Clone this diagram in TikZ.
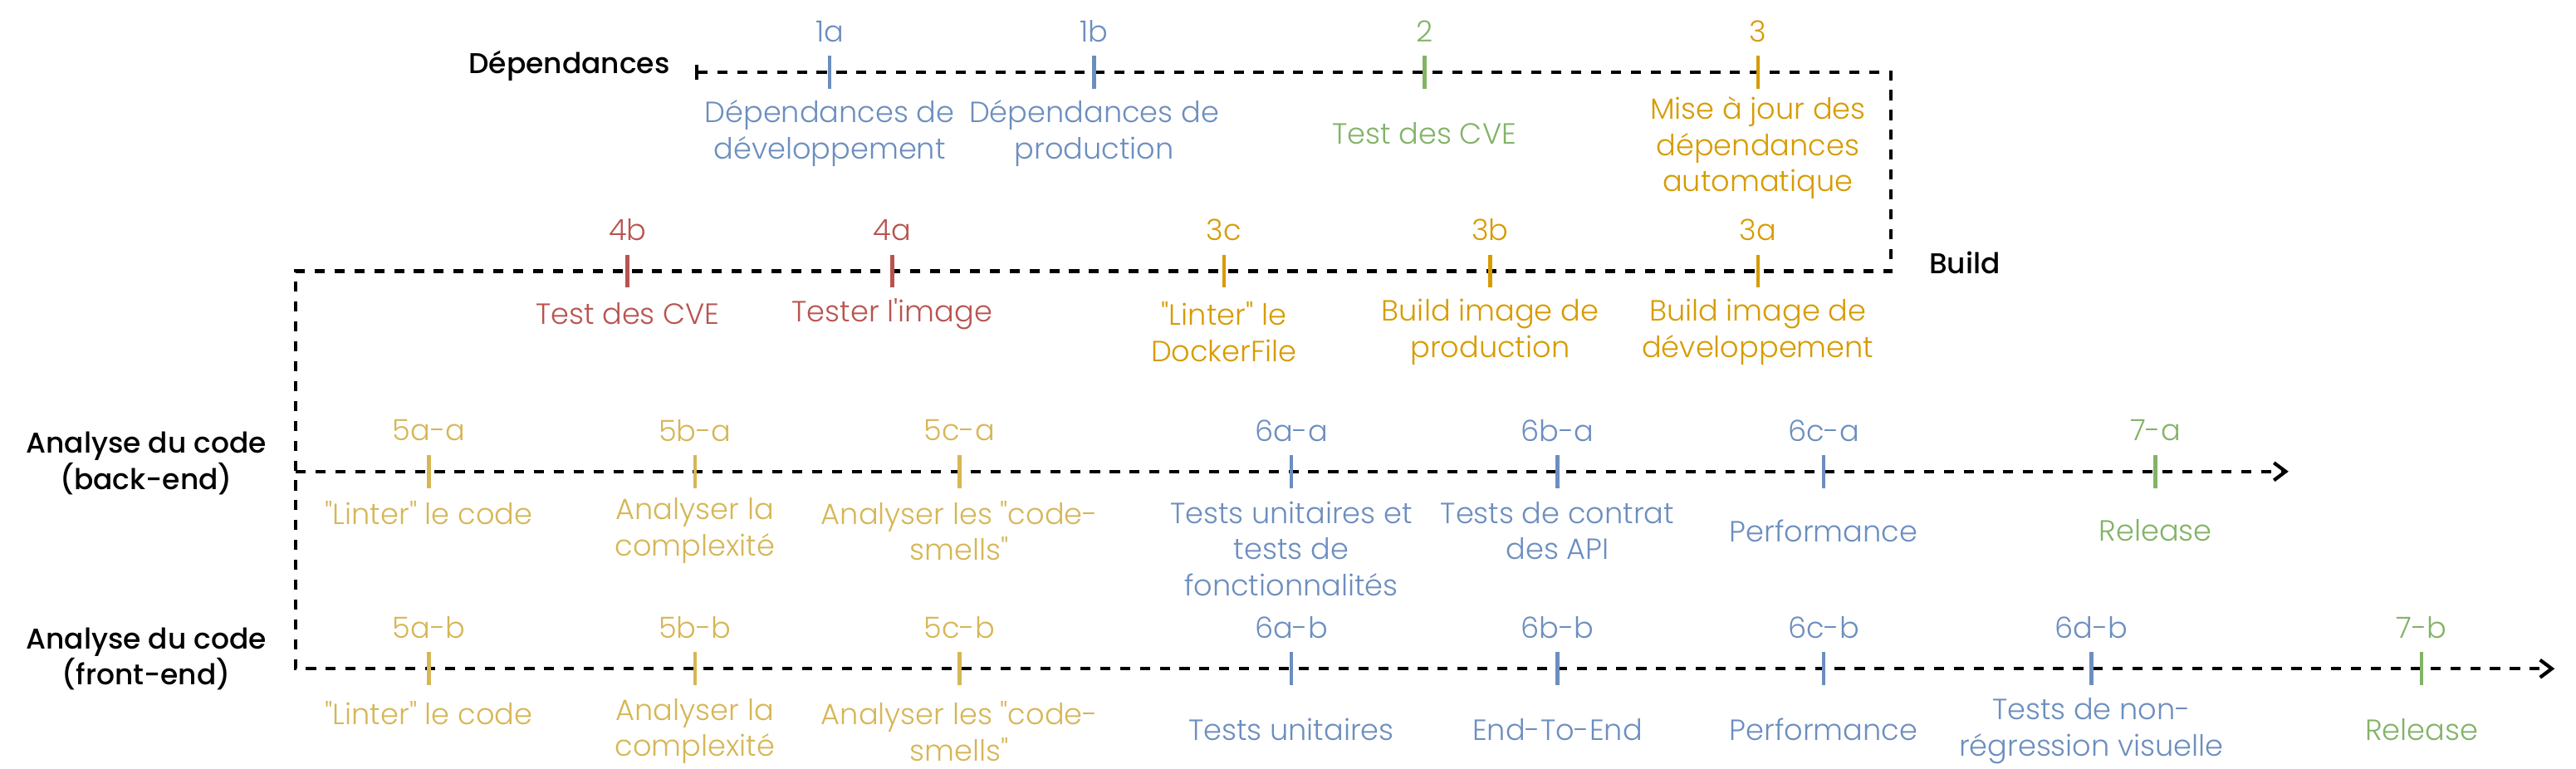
\documentclass[tikz,border=0pt]{standalone}
\usepackage{fontspec}
\setmainfont{Poppins}
\newfontfamily\lightfont{Poppins Light}
\newfontfamily\medfont{Poppins Medium}
\usetikzlibrary{arrows.meta}
\definecolor{cblue}{HTML}{6C8EBF}
\definecolor{cgreen}{HTML}{82B366}
\definecolor{corange}{HTML}{D79B00}
\definecolor{cred}{HTML}{B85450}
\definecolor{cyellow}{HTML}{D6B656}
\tikzset{
  flow/.style={line width=1.25pt, dash pattern=on 3.45pt off 3.35pt},
  tickmark/.style={line width=1.3pt},
  numlbl/.style={font=\lightfont\fontsize{10}{12.4}\selectfont, inner sep=0pt},
  desc/.style={font=\lightfont\fontsize{10}{12.4}\selectfont, align=center, inner sep=0pt},
  lanetitle/.style={font=\medfont\fontsize{9.8}{12.4}\selectfont, align=center, inner sep=0pt},
  endtip/.style={-{Straight Barb[length=4pt,width=6pt,line width=1.2pt]}},
}
% name, x, line y, colour, number, text y, text
\newcommand\milestone[7]{%
  \coordinate (#1-t) at (#2,#3-10);
  \coordinate (#1-b) at (#2,#3+10);
  \draw[tickmark,#4] (#1-t) -- (#1-b);
  \node[numlbl,text=#4] (#1-n) at (#2,#3-25) {#5};
  \node[desc,text=#4] (#1-d) at (#2,#6) {#7};
}
\begin{document}
\begin{tikzpicture}[x=0.01978cm,y=-0.01978cm]
\useasboundingbox (0,0) rectangle (1568,468);
% lane titles
\node[lanetitle,anchor=east] (tdep) at (408,40) {Dépendances};
\node[lanetitle,anchor=west] (tbuild) at (1174,160) {Build};
\node[lanetitle] (tback) at (89,282) {Analyse du code\\(back-end)};
\node[lanetitle] (tfront) at (89,401) {Analyse du code\\(front-end)};
% path coordinates
\coordinate (dstart) at (423,44);
\coordinate (dcorner) at (1151,44);
\coordinate (bcorner) at (1151,165);
\coordinate (bleft) at (180,165);
\coordinate (bestart) at (180,287);
\coordinate (beend) at (1393,287);
\coordinate (festart) at (180,407);
\coordinate (feend) at (1555,407);
\draw[flow,{Bar[width=5pt,line width=1.2pt]}-{Straight Barb[length=4pt,width=6pt,line width=1.2pt]}]
  (dstart) -- (dcorner) -- (bcorner) -- (bleft) -- (festart) -- (feend);
\draw[flow,endtip] (bestart) -- (beend);
% Dépendances
\milestone{m1a}{505}{44}{cblue}{1a}{81}{Dépendances de\\développement}
\milestone{m1b}{666}{44}{cblue}{1b}{81}{Dépendances de\\production}
\milestone{m2}{867}{44}{cgreen}{2}{81}{Test des CVE}
\milestone{m3}{1070}{44}{corange}{3}{90}{Mise à jour des\\dépendances\\automatique}
% Build
\milestone{m4b}{382}{165}{cred}{4b}{191}{Test des CVE}
\milestone{m4a}{543}{165}{cred}{4a}{191}{Tester l'image}
\milestone{m3c}{745}{165}{corange}{3c}{202}{"Linter" le\\DockerFile}
\milestone{m3b}{907}{165}{corange}{3b}{202}{Build image de\\production}
\milestone{m3a}{1070}{165}{corange}{3a}{202}{Build image de\\développement}
% back-end
\milestone{m5aa}{261}{287}{cyellow}{5a-a}{312}{"Linter" le code}
\milestone{m5ba}{423}{287}{cyellow}{5b-a}{323}{Analyser la\\complexité}
\milestone{m5ca}{584}{287}{cyellow}{5c-a}{323}{Analyser les "code-\\smells"}
\milestone{m6aa}{786}{287}{cblue}{6a-a}{334}{Tests unitaires et\\tests de\\fonctionnalités}
\milestone{m6ba}{948}{287}{cblue}{6b-a}{323}{Tests de contrat\\des API}
\milestone{m6ca}{1110}{287}{cblue}{6c-a}{323}{Performance}
\milestone{m7a}{1312}{287}{cgreen}{7-a}{323}{Release}
% front-end
\milestone{m5ab}{261}{407}{cyellow}{5a-b}{434}{"Linter" le code}
\milestone{m5bb}{423}{407}{cyellow}{5b-b}{445}{Analyser la\\complexité}
\milestone{m5cb}{584}{407}{cyellow}{5c-b}{445}{Analyser les "code-\\smells"}
\milestone{m6ab}{786}{407}{cblue}{6a-b}{444}{Tests unitaires}
\milestone{m6bb}{948}{407}{cblue}{6b-b}{444}{End-To-End}
\milestone{m6cb}{1110}{407}{cblue}{6c-b}{444}{Performance}
\milestone{m6db}{1273}{407}{cblue}{6d-b}{445}{Tests de non-\\régression visuelle}
\milestone{m7b}{1474}{407}{cgreen}{7-b}{444}{Release}
\end{tikzpicture}
\end{document}
